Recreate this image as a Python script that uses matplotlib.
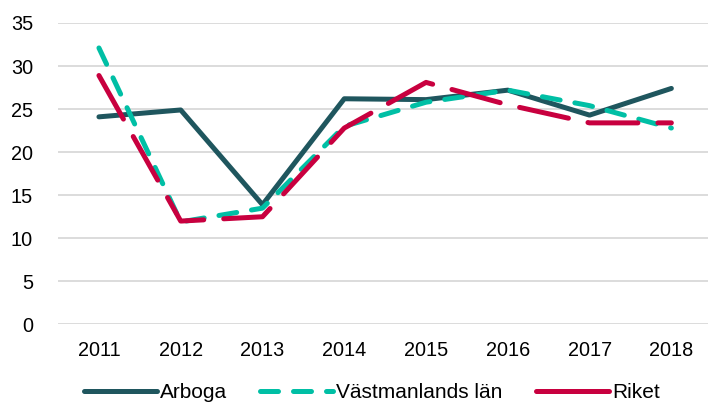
import matplotlib
matplotlib.use("Agg")
import matplotlib.pyplot as plt
from matplotlib.lines import Line2D

# data
years = ["2011", "2012", "2013", "2014", "2015", "2016", "2017", "2018"]
arboga = [24.1, 24.9, 13.9, 26.2, 26.1, 27.2, 24.3, 27.4]
vastmanland = [32.1, 11.9, 13.5, 23.0, 25.8, 27.2, 25.4, 22.8]
riket = [28.9, 12.0, 12.5, 22.8, 28.1, 25.5, 23.4, 23.4]

plt.rcParams['font.family'] = ['Liberation Sans', 'DejaVu Sans']

fig = plt.figure(figsize=(7.08, 4.03), dpi=100)
ax = fig.add_axes([0.082, 0.195, 0.924, 0.748])

x = range(len(years))
lw = 3.6
l1, = ax.plot(x, arboga, color='#1F565E', lw=lw, solid_joinstyle='round',
              solid_capstyle='round', label='Arboga', zorder=3)
l2, = ax.plot(x, vastmanland, color='#00BFA5', lw=lw, dashes=(3.6, 3.0),
              dash_capstyle='round', dash_joinstyle='round',
              label='Västmanlands län', zorder=4)
ax.plot(x, riket, color='#C8003F', lw=lw, dashes=(10, 4),
        dash_capstyle='round', dash_joinstyle='round',
        label='Riket', zorder=5)

ax.set_xlim(-0.5, 7.5)
ax.set_ylim(0, 35)
ax.set_yticks(range(0, 36, 5))
ax.set_xticks(list(x))
ax.set_xticklabels(years)
ax.grid(axis='y', color='#D9D9D9', lw=1.3)
ax.set_axisbelow(True)
for s in ax.spines.values():
    s.set_visible(False)
ax.tick_params(axis='both', length=0, labelsize=14.3, colors='black')
ax.tick_params(axis='y', pad=18)
ax.tick_params(axis='x', pad=12)

# the legend shows Riket as a solid stroke (too short for a full dash)
riket_handle = Line2D([], [], color='#C8003F', lw=lw, solid_capstyle='round')
fig.legend([l1, l2, riket_handle], ['Arboga', 'Västmanlands län', 'Riket'],
           loc='lower center', bbox_to_anchor=(0.525, -0.045), ncol=3,
           frameon=False, fontsize=15, handlelength=3.5, handletextpad=0.15,
           columnspacing=1.6)

fig.savefig("out.png", dpi=100)
